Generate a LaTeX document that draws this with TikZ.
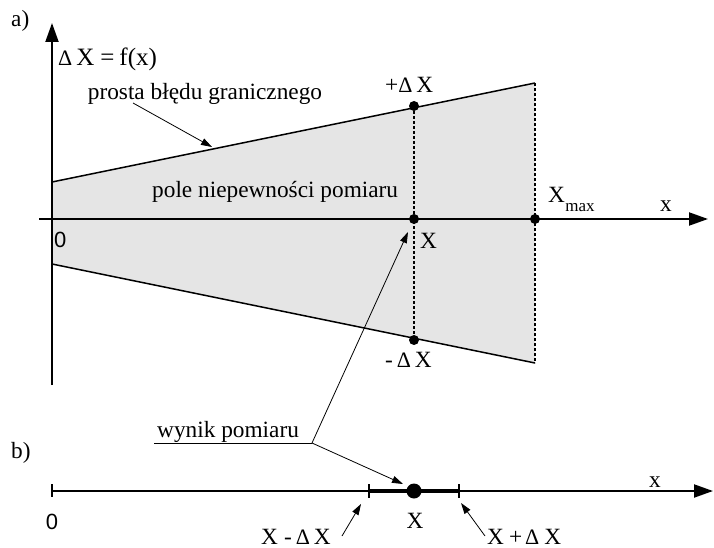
\documentclass[tikz,border=0pt]{standalone}
\usepackage{fontspec}
\setmainfont{Liberation Serif}
\newfontfamily\sansf{Liberation Sans}
\usetikzlibrary{arrows.meta}
\newcommand{\dlt}{{\fontsize{22}{24}\selectfont Δ}}
\begin{document}
\begin{tikzpicture}[x=1pt,y=-1pt,
  lbl/.style={inner sep=0pt, font=\fontsize{23.3}{26}\selectfont},
  zero/.style={inner sep=0pt, font=\sansf\fontsize{22}{24}\selectfont},
  axis/.style={line width=2pt,-{Triangle[length=19pt,width=13pt]}},
  bound/.style={line width=1.5pt},
  dotline/.style={line width=2pt,dash pattern=on 3pt off 2pt},
  pt/.style={circle,fill,inner sep=0pt,minimum size=10pt},
  ann/.style={line width=0.8pt,-{Triangle[length=11pt,width=7pt]}},
  tick/.style={line width=1.5pt},
]
\useasboundingbox (0,0) rectangle (714,548);
% ---------- a) ----------
\coordinate (UL) at (52,182);
\coordinate (UR) at (535,83);
\coordinate (LL) at (52,264);
\coordinate (LR) at (535,363);
\fill[gray!20] (UL) -- (UR) -- (LR) -- (LL) -- cycle;
\draw[bound] (UL) -- (UR);
\draw[bound] (LL) -- (LR);
\node[pt] (Pp) at (414,106) {};
\node[pt] (Pm) at (414,340) {};
\node[pt] (P0) at (414,219) {};
\node[pt] (Pmax) at (535,219) {};
\draw[dotline] (Pp.center) -- (Pm.center);
\draw[dotline] (UR) -- (LR);
\coordinate (xs) at (39,219);
\coordinate (xe) at (708,219);
\coordinate (ys) at (52,385);
\coordinate (ye) at (52,23);
\draw[axis] (xs) -- (xe);
\draw[axis] (ys) -- (ye);
\node[lbl,anchor=base west] (la) at (11,27) {a)};
\node[lbl,anchor=base west,font=\fontsize{25}{28}\selectfont] (fx) at (58,66) {\dlt\hspace{4pt}X\hspace{6pt}=\hspace{5pt}f(x)};
\node[lbl,anchor=base] (prosta) at (205,100) {prosta błędu granicznego};
\node[lbl,anchor=base west] (pole) at (152,197) {pole niepewności pomiaru};
\node[lbl,anchor=base west] (plus) at (385,93) {+\dlt\,X};
\node[lbl,anchor=base west] (minus) at (385,367) {-\,\dlt\,X};
\node[lbl,anchor=base west] (Xa) at (420,248) {X};
\node[lbl,anchor=base west] (Xmax) at (548,202) {X};
\node[inner sep=0pt,anchor=base west,font=\fontsize{17}{20}\selectfont] (maxs) at (Xmax.base east) [yshift=-9pt] {max};
\node[lbl,anchor=base] (xa) at (666,211) {x};
\node[zero,anchor=base west] (z0a) at (54,247) {0};
\coordinate (pa1) at (133,103);
\coordinate (pa2) at (212,147);
\draw[ann] (pa1) -- (pa2);
% ---------- annotation ----------
\node[lbl,anchor=base west] (wynik) at (157,437) {wynik pomiaru};
\coordinate (w1) at (154,443);
\coordinate (w2) at (312,443);
\coordinate (wa) at (408,232);
\coordinate (wb) at (403,484);
\draw[line width=0.8pt] (w1) -- (w2);
\draw[ann] (w2) -- (wa);
\draw[ann] (w2) -- (wb);
% ---------- b) ----------
\node[lbl,anchor=base west] (lb) at (11,458) {b)};
\coordinate (bs) at (52,491);
\coordinate (be) at (713,491);
\draw[axis] (bs) -- (be);
\draw[tick] (52,484) -- (52,497);
\coordinate (L) at (369,491);
\coordinate (R) at (459,491);
\draw[line width=4.5pt] (L) -- (R);
\draw[tick] (369,484) -- (369,498);
\draw[tick] (459,484) -- (459,498);
\node[circle,fill,inner sep=0pt,minimum size=15pt] (Pb) at (414,491) {};
\node[zero,anchor=base] (z0b) at (52,529) {0};
\node[lbl,anchor=base] (Xb) at (415,528) {X};
\node[lbl,anchor=base] (xb) at (655,487) {x};
\node[lbl,anchor=base west] (XmD) at (261,544) {X\hspace{6pt}-\hspace{4pt}\dlt\hspace{4pt}X};
\node[lbl,anchor=base west] (XpD) at (487,544) {X\hspace{5pt}+\hspace{3pt}\dlt\hspace{5pt}X};
\coordinate (m1) at (342,536);
\coordinate (m2) at (361,504);
\coordinate (p1) at (485,536);
\coordinate (p2) at (461,503);
\draw[ann] (m1) -- (m2);
\draw[ann] (p1) -- (p2);
\end{tikzpicture}
\end{document}
